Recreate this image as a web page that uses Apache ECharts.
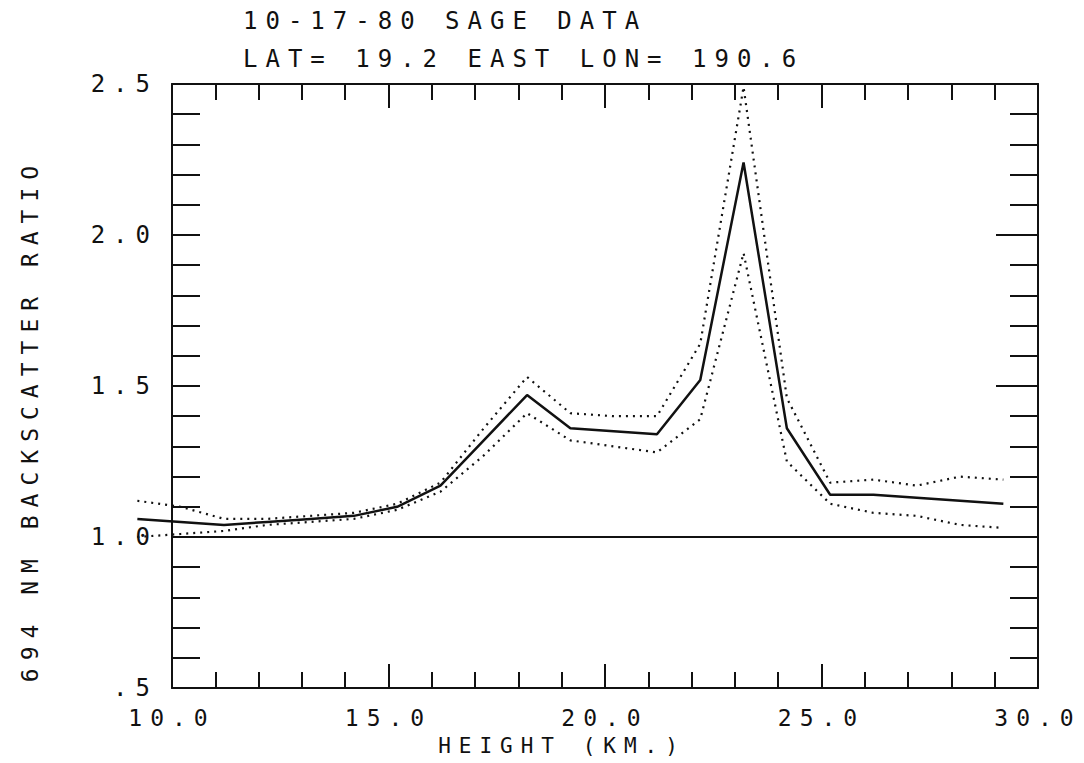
<!DOCTYPE html>
<html>
<head>
<meta charset="utf-8">
<script src="https://cdn.jsdelivr.net/npm/echarts@6/dist/echarts.min.js"></script>
<style>
  html, body { margin: 0; padding: 0; background: #fff; }
  #chart { width: 1084px; height: 763px; letter-spacing: 8px; }
</style>
</head>
<body>
<div id="chart"></div>
<script>
// SAGE profile, 10-17-80
const heights = [9.2, 10.2, 11.2, 12.2, 13.2, 14.2, 15.2, 16.2, 17.2, 18.2, 19.2, 20.2, 21.2, 22.2, 23.2, 24.2, 25.2, 26.2, 27.2, 28.2, 29.2]
const ratio = [1.06, 1.05, 1.04, 1.05, 1.06, 1.07, 1.10, 1.17, 1.32, 1.47, 1.36, 1.35, 1.34, 1.52, 2.24, 1.36, 1.14, 1.14, 1.13, 1.12, 1.11]
const upper = [1.12, 1.10, 1.06, 1.06, 1.07, 1.08, 1.11, 1.18, 1.36, 1.53, 1.41, 1.40, 1.40, 1.64, 2.49, 1.46, 1.18, 1.19, 1.17, 1.20, 1.19]
const lower = [1.00, 1.01, 1.02, 1.04, 1.05, 1.06, 1.09, 1.15, 1.27, 1.41, 1.32, 1.30, 1.28, 1.39, 1.94, 1.25, 1.11, 1.08, 1.07, 1.04, 1.03]
const baseline = [[10, 1.0], [30, 1.0]]

const titleLines = ['10-17-80 SAGE DATA', 'LAT= 19.2 EAST LON= 190.6']
const xName = 'HEIGHT (KM.)'
const yName = '694 NM BACKSCATTER RATIO'

const font = '"DejaVu Sans Mono", monospace'
const ink = '#111'

function pairs(ys) {
	return heights.map(function (h, i) { return [h, ys[i]] })
}

let myChart = echarts.init(document.getElementById('chart'), null, { renderer: 'svg' })

// plot frame: 10..30 km over x 172..1038, so the curves (which start at 9.2 km)
// live on a second, hidden grid that starts 0.8 km further left with the same scale
const kmPx = (1038 - 172) / 20
const frame = { left: 172, right: 46, top: 84, bottom: 75 }
const wide = { left: 172 - 0.8 * kmPx, right: 46, top: 84, bottom: 75 }

let axisCommon = {
	axisLine: { show: true, onZero: false, lineStyle: { color: ink, width: 2 } },
	splitLine: { show: false }
}
let hidden = {
	show: false, type: 'value', gridIndex: 1, splitLine: { show: false }
}

let option = {
	animation: false,
	backgroundColor: '#fff',
	grid: [frame, wide],
	xAxis: [
		Object.assign({}, axisCommon, {
			type: 'value', position: 'bottom', min: 10, max: 30, interval: 5,
			axisTick: { inside: true, length: 24, lineStyle: { color: ink, width: 2 } },
			minorTick: { show: true, splitNumber: 5, length: 16, lineStyle: { color: ink, width: 2 } },
			axisLabel: {
				margin: 18, color: ink, fontFamily: font, fontSize: 23,
				formatter: function (v) { return v.toFixed(1) }
			}
		}),
		Object.assign({}, axisCommon, {
			type: 'value', position: 'top', min: 10, max: 30, interval: 5,
			axisTick: { inside: true, length: 24, lineStyle: { color: ink, width: 2 } },
			minorTick: { show: true, splitNumber: 5, length: 16, lineStyle: { color: ink, width: 2 } },
			axisLabel: { show: false }
		}),
		Object.assign({}, hidden, { min: 9.2, max: 30 })
	],
	yAxis: [
		Object.assign({}, axisCommon, {
			type: 'value', position: 'left', min: 0.5, max: 2.5, interval: 0.5,
			axisTick: { inside: true, length: 28, lineStyle: { color: ink, width: 2 } },
			minorTick: { show: true, splitNumber: 5, length: 28, lineStyle: { color: ink, width: 2 } },
			axisLabel: {
				margin: 14, color: ink, fontFamily: font, fontSize: 24,
				formatter: function (v) { return v === 0.5 ? '.5' : v.toFixed(1) }
			}
		}),
		Object.assign({}, axisCommon, {
			type: 'value', position: 'right', min: 0.5, max: 2.5, interval: 0.5,
			axisTick: { inside: true, length: 42, lineStyle: { color: ink, width: 2 } },
			minorTick: { show: true, splitNumber: 5, length: 28, lineStyle: { color: ink, width: 2 } },
			axisLabel: { show: false }
		}),
		Object.assign({}, hidden, { min: 0.5, max: 2.5 })
	],
	graphic: [
		{ type: 'text', x: 243, y: 21, style: { text: titleLines[0], font: '24px ' + font, fill: ink, align: 'left', verticalAlign: 'middle' } },
		{ type: 'text', x: 243, y: 59, style: { text: titleLines[1], font: '24px ' + font, fill: ink, align: 'left', verticalAlign: 'middle' } },
		{ type: 'text', x: 562, y: 746, style: { text: xName, font: '21px ' + font, fill: ink, align: 'center', verticalAlign: 'middle' } },
		{ type: 'text', x: 30, y: 420, rotation: Math.PI / 2, style: { text: yName, font: '23px ' + font, fill: ink, align: 'center', verticalAlign: 'middle' } }
	],
	series: [
		{
			name: 'baseline', type: 'line', data: baseline, symbol: 'none', silent: true,
			lineStyle: { color: ink, width: 2 }
		},
		{
			name: 'ratio', type: 'line', xAxisIndex: 2, yAxisIndex: 2, data: pairs(ratio), symbol: 'none',
			lineStyle: { color: ink, width: 2.5 }
		},
		{
			name: 'upper', type: 'line', xAxisIndex: 2, yAxisIndex: 2, data: pairs(upper), symbol: 'none',
			lineStyle: { color: ink, width: 2.2, type: [2, 5] }
		},
		{
			name: 'lower', type: 'line', xAxisIndex: 2, yAxisIndex: 2, data: pairs(lower), symbol: 'none',
			lineStyle: { color: ink, width: 2.2, type: [2, 5] }
		}
	]
}

myChart.setOption(option)
</script>
</body>
</html>
